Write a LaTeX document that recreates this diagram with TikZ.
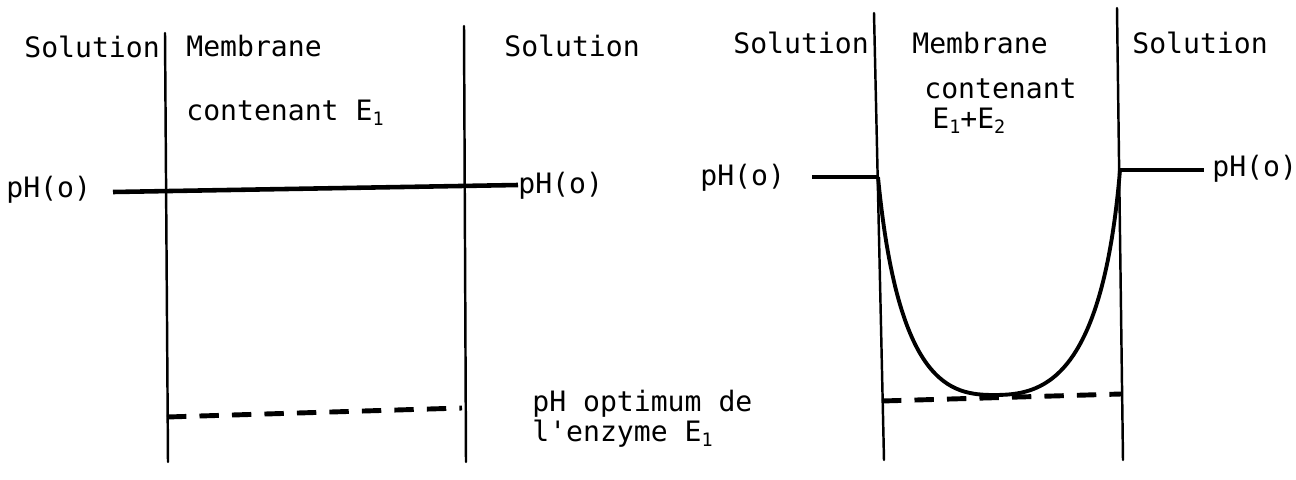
\documentclass[tikz,border=0pt]{standalone}
\usepackage{fontspec}
\setmonofont{DejaVu Sans Mono}
\newcommand{\enz}[1]{E\raisebox{-0.35ex}{\fontsize{10.5}{10.5}\selectfont #1}}

\begin{document}
\begin{tikzpicture}[x=0.02cm,y=-0.02cm,
  lbl/.style={font=\ttfamily\fontsize{16}{19}\selectfont,anchor=base west,inner sep=0pt},
  wall/.style={line width=1.4pt,line cap=round},
  level/.style={line width=2.6pt},
  optim/.style={line width=2.8pt,dash pattern=on 11pt off 7.5pt},
  profil/.style={line width=2.2pt}]
\useasboundingbox (0,0) rectangle (1296,480);
% left panel: membrane with E1
\node[lbl] (sol1) at (24,57) {Solution};
\node[lbl] (mem1) at (186,56) {Membrane};
\node[lbl] (cont1) at (186,120) {contenant \enz{1}};
\node[lbl] (sol2) at (504,56) {Solution};
\node[lbl] (ph1) at (6,197) {pH(o)};
\node[lbl] (ph2) at (518,193) {pH(o)};
\node[lbl] (opt) at (532,411) {pH optimum de};
\node[lbl] (opt2) at (532,441) {l'enzyme \enz{1}};
\coordinate (w1t) at (165,33);
\coordinate (w1b) at (168,462);
\coordinate (w2t) at (464,26);
\coordinate (w2b) at (466,462);
\coordinate (lv1) at (113,192);
\coordinate (lv2) at (518,185);
\coordinate (op1) at (167,417);
\coordinate (op2) at (462,408);
\draw[wall] (w1t) -- (w1b);
\draw[wall] (w2t) -- (w2b);
\draw[level] (lv1) -- (lv2);
\draw[optim] (op1) -- (op2);
% right panel: membrane with E1+E2
\node[lbl] (sol3) at (733,53) {Solution};
\node[lbl] (mem2) at (912,53) {Membrane};
\node[lbl] (cont2) at (924,98) {contenant};
\node[lbl] (cont3) at (932,128) {\enz{1}+\enz{2}};
\node[lbl] (sol4) at (1132,53) {Solution};
\node[lbl] (ph3) at (700,185) {pH(o)};
\node[lbl] (ph4) at (1212,176) {pH(o)};
\coordinate (w3t) at (874,13);
\coordinate (w3b) at (884,460);
\coordinate (w4t) at (1117,8);
\coordinate (w4b) at (1123,460);
\coordinate (in1) at (812,177);
\coordinate (in2) at (878,177);
\coordinate (out1) at (1120,170);
\coordinate (out2) at (1204,170);
\coordinate (bot) at (994,395);
\coordinate (op3) at (882,401);
\coordinate (op4) at (1121,394);
\draw[wall] (w3t) -- (w3b);
\draw[wall] (w4t) -- (w4b);
\draw[level] (in1) -- (in2);
\draw[level] (out1) -- (out2);
\draw[profil] (in2) .. controls (898,385) and (950,395) .. (bot)
  .. controls (1040,395) and (1102,385) .. (out1);
\draw[optim] (op3) -- (op4);
\end{tikzpicture}
\end{document}
